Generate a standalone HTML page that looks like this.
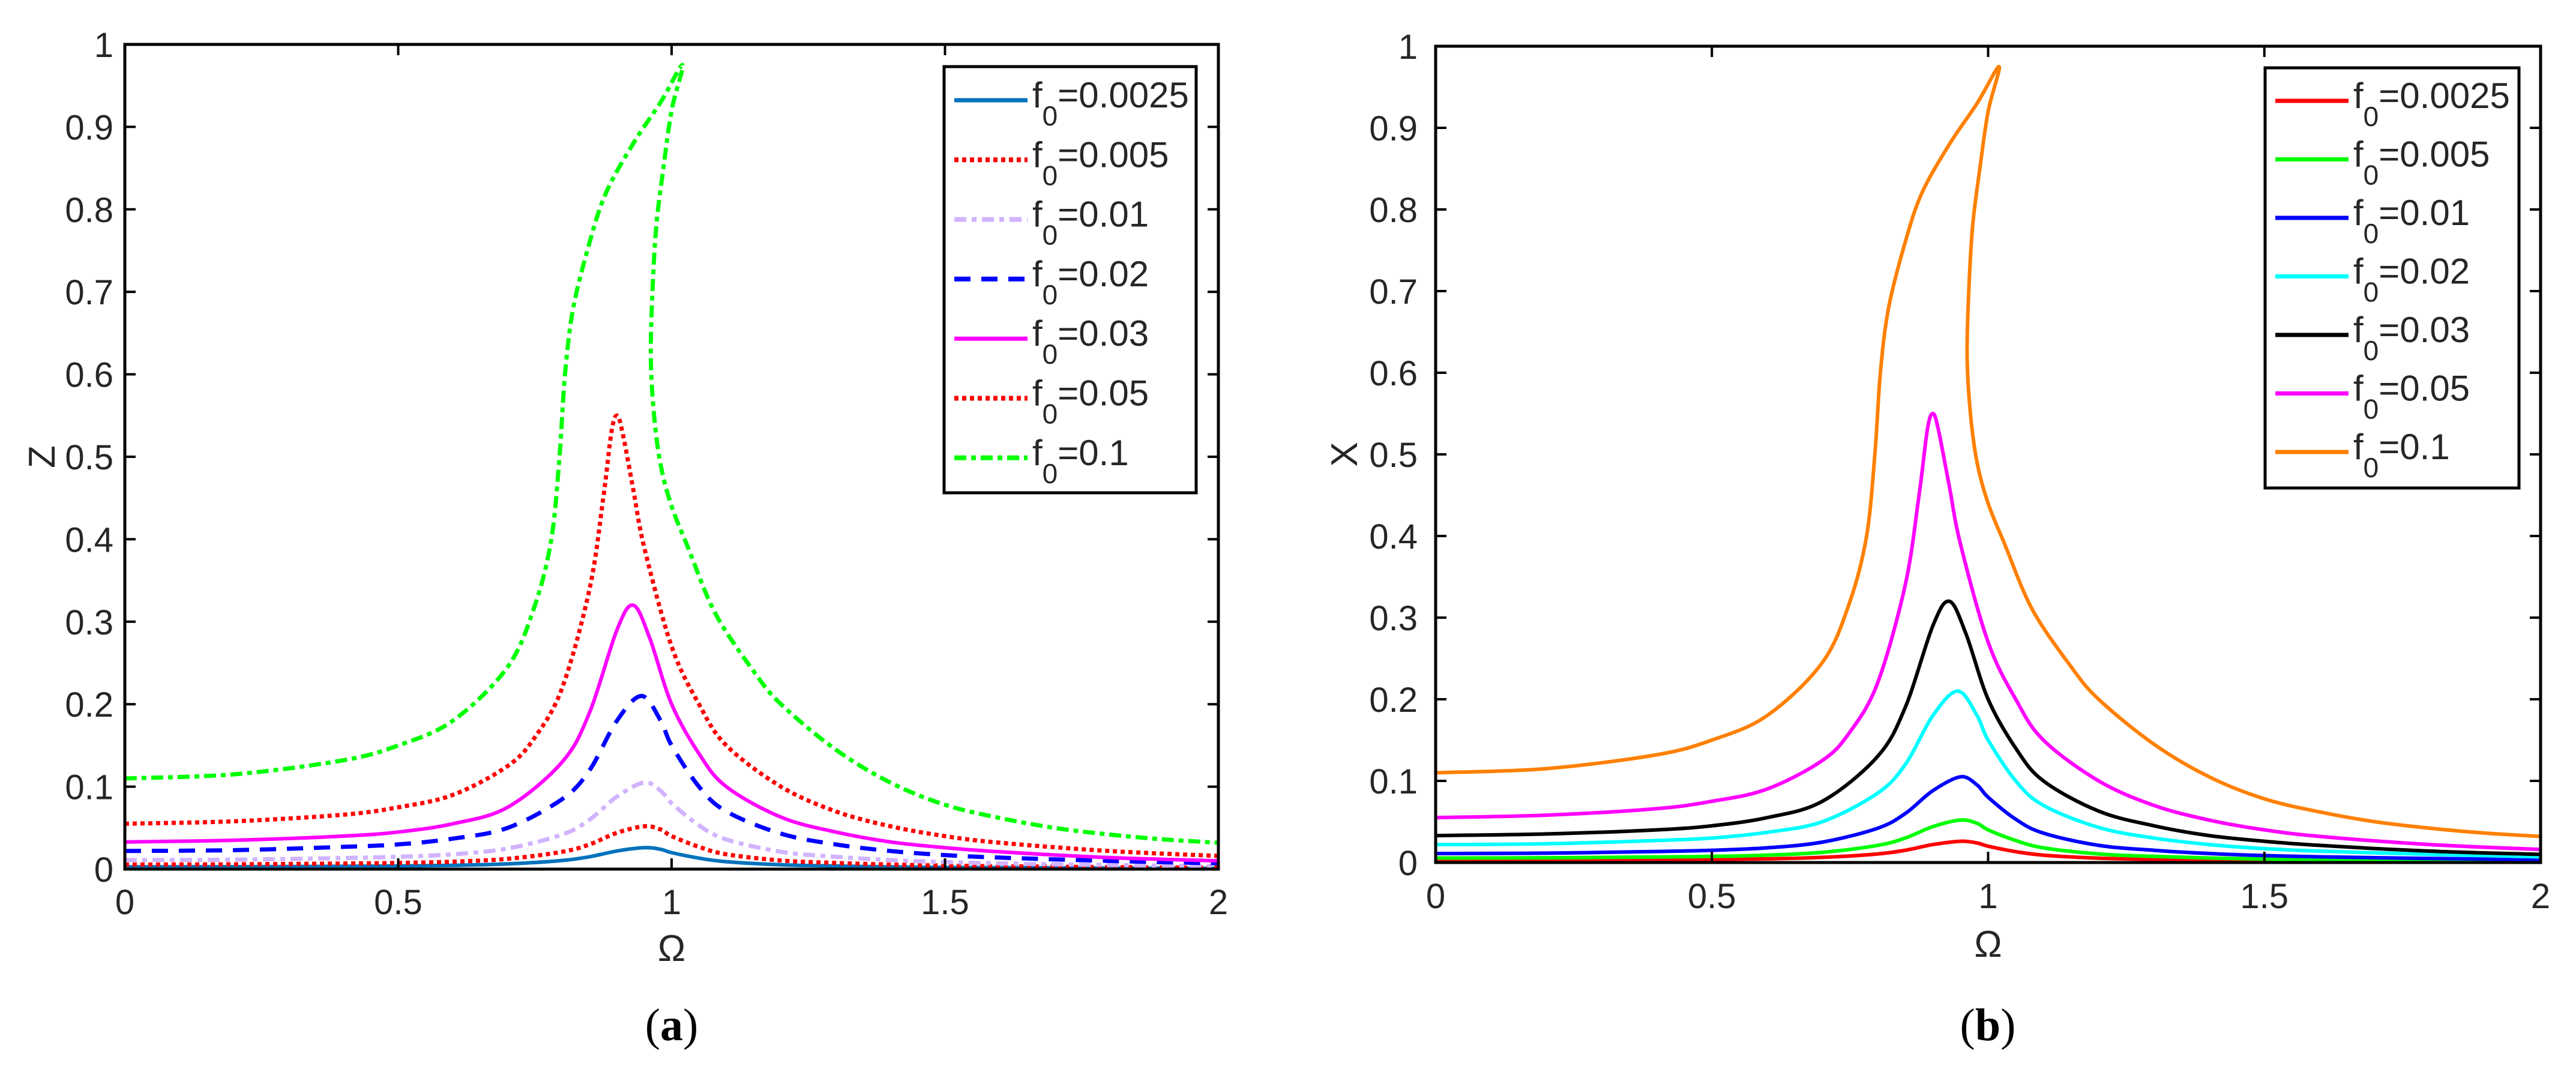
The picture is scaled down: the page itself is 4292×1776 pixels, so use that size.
<!DOCTYPE html>
<html>
<head>
<meta charset="utf-8">
<style>
html,body{margin:0;padding:0;background:#fff;}
svg{display:block;}
text{font-family:"Liberation Sans",Arial,sans-serif;fill:#262626;}
.serif{font-family:"Liberation Serif","Times New Roman",serif;fill:#000;}
</style>
</head>
<body>
<svg id="fig" width="4292" height="1776" viewBox="0 0 4292 1776" xmlns="http://www.w3.org/2000/svg"></svg>
<script>
// ---- data ----
const xTicks = [0, 0.5, 1, 1.5, 2];
const xTickLabels = ["0", "0.5", "1", "1.5", "2"];
const yTicks = [0, 0.1, 0.2, 0.3, 0.4, 0.5, 0.6, 0.7, 0.8, 0.9, 1];
const yTickLabels = ["0", "0.1", "0.2", "0.3", "0.4", "0.5", "0.6", "0.7", "0.8", "0.9", "1"];
const seriesNames = ["f0=0.0025", "f0=0.005", "f0=0.01", "f0=0.02", "f0=0.03", "f0=0.05", "f0=0.1"];
const legendValues = ["0.0025", "0.005", "0.01", "0.02", "0.03", "0.05", "0.1"];

const omegaSmall = [0, 0.2, 0.4, 0.5, 0.6, 0.7, 0.8, 0.85, 0.9, 0.95, 0.98, 1.0, 1.05, 1.1, 1.2, 1.3, 1.4, 1.5, 1.6, 1.8, 2.0];
const amp0025 = [0.0028, 0.0029, 0.0034, 0.0038, 0.0045, 0.0063, 0.0105, 0.015, 0.022, 0.026, 0.024, 0.02, 0.0133, 0.009, 0.0053, 0.0038, 0.0028, 0.0021, 0.0018, 0.0013, 0.0009];
const amp005 = [0.0055, 0.0058, 0.0068, 0.0075, 0.009, 0.0125, 0.021, 0.03, 0.044, 0.052, 0.048, 0.04, 0.027, 0.018, 0.0105, 0.0075, 0.0055, 0.0043, 0.0035, 0.0025, 0.0018];
const amp01 = [0.011, 0.0115, 0.0135, 0.015, 0.018, 0.025, 0.042, 0.06, 0.088, 0.105, 0.095, 0.08, 0.053, 0.036, 0.021, 0.015, 0.011, 0.0085, 0.007, 0.005, 0.0035];

const omega02 = [0, 0.2, 0.4, 0.5, 0.6, 0.7, 0.8, 0.85, 0.9, 0.945, 0.98, 1.0, 1.05, 1.1, 1.2, 1.3, 1.4, 1.5, 1.6, 1.8, 2.0];
const amp02 = [0.022, 0.023, 0.027, 0.03, 0.037, 0.05, 0.085, 0.12, 0.18, 0.21, 0.18, 0.15, 0.1, 0.07, 0.043, 0.03, 0.022, 0.017, 0.014, 0.01, 0.007];

const omega03 = [0, 0.2, 0.4, 0.5, 0.6, 0.7, 0.8, 0.85, 0.9, 0.93, 0.96, 1.0, 1.05, 1.1, 1.2, 1.3, 1.4, 1.5, 1.6, 1.8, 2.0];
const amp03 = [0.033, 0.035, 0.04, 0.045, 0.055, 0.075, 0.13, 0.19, 0.29, 0.32, 0.28, 0.2, 0.14, 0.1, 0.063, 0.045, 0.033, 0.026, 0.021, 0.014, 0.01];

const omega05 = [0, 0.2, 0.4, 0.5, 0.6, 0.7, 0.75, 0.8, 0.85, 0.875, 0.89, 0.9, 0.91, 0.93, 0.95, 1.0, 1.05, 1.1, 1.2, 1.3, 1.4, 1.5, 1.6, 1.8, 2.0];
const amp05 = [0.055, 0.058, 0.066, 0.075, 0.09, 0.125, 0.16, 0.22, 0.34, 0.45, 0.53, 0.55, 0.53, 0.46, 0.39, 0.27, 0.2, 0.15, 0.1, 0.07, 0.052, 0.04, 0.032, 0.022, 0.016];

const omega1 = [0, 0.2, 0.4, 0.5, 0.6, 0.7, 0.75, 0.78, 0.795, 0.805, 0.82, 0.85, 0.88, 0.93, 0.98, 1.02, 1.0, 0.985, 0.972, 0.965, 0.962, 0.968, 0.98, 1.0, 1.03, 1.08, 1.15, 1.2, 1.3, 1.4, 1.5, 1.6, 1.7, 1.8, 1.9, 2.0];
const amp1 = [0.11, 0.115, 0.132, 0.15, 0.18, 0.245, 0.32, 0.4, 0.5, 0.6, 0.68, 0.76, 0.82, 0.88, 0.93, 0.975, 0.92, 0.85, 0.78, 0.7, 0.62, 0.55, 0.49, 0.44, 0.39, 0.31, 0.24, 0.2, 0.145, 0.105, 0.078, 0.062, 0.05, 0.042, 0.036, 0.032];

const seriesOmega = [omegaSmall, omegaSmall, omegaSmall, omega02, omega03, omega05, omega1];
const seriesAmp = [amp0025, amp005, amp01, amp02, amp03, amp05, amp1];

// ---- styles ----
const styleA = [
  {c:"#0072BD", d:"", w:6},
  {c:"#FF0000", d:"7 6", w:7},
  {c:"#D1B3FF", d:"20 9 8 9", w:7},
  {c:"#0000FF", d:"27 18", w:7},
  {c:"#FF00FF", d:"", w:6},
  {c:"#FF0000", d:"7 6", w:7},
  {c:"#00FF00", d:"20 8 8 8", w:7}
];
const styleB = [
  {c:"#FF0000", d:"", w:6},
  {c:"#00FF00", d:"", w:6},
  {c:"#0000FF", d:"", w:6},
  {c:"#00FFFF", d:"", w:6},
  {c:"#000000", d:"", w:6},
  {c:"#FF00FF", d:"", w:6},
  {c:"#FF8000", d:"", w:6}
];

const NS = "http://www.w3.org/2000/svg";
const svg = document.getElementById("fig");
function mk(tag, attrs, parent) {
  const e = document.createElementNS(NS, tag);
  for (const k in attrs) e.setAttribute(k, attrs[k]);
  (parent || svg).appendChild(e);
  return e;
}
function smoothPath(pts) {
  let d = "M" + pts[0][0].toFixed(1) + "," + pts[0][1].toFixed(1);
  for (let i = 0; i < pts.length - 1; i++) {
    const p0 = pts[Math.max(0, i - 1)], p1 = pts[i], p2 = pts[i + 1], p3 = pts[Math.min(pts.length - 1, i + 2)];
    const c1x = p1[0] + (p2[0] - p0[0]) / 6, c1y = p1[1] + (p2[1] - p0[1]) / 6;
    const c2x = p2[0] - (p3[0] - p1[0]) / 6, c2y = p2[1] - (p3[1] - p1[1]) / 6;
    d += "C" + c1x.toFixed(1) + "," + c1y.toFixed(1) + " " + c2x.toFixed(1) + "," + c2y.toFixed(1) + " " + p2[0].toFixed(1) + "," + p2[1].toFixed(1);
  }
  return d;
}

function panel(cfg) {
  const g = mk("g", {});
  
  
  const sx = v => cfg.L + (v - 0) / 2 * (cfg.R - cfg.L);
  const sy = v => cfg.B - v * (cfg.B - cfg.T);
  const clipId = cfg.name + "-clip";
  const cp = mk("clipPath", {id: clipId}, g);
  mk("rect", {x: cfg.L, y: cfg.T - 10, width: cfg.R - cfg.L, height: cfg.B - cfg.T + 10}, cp);

  const sg = mk("g", {"clip-path": "url(#" + clipId + ")"}, g);
  for (let i = 0; i < seriesAmp.length; i++) {
    const pts = seriesOmega[i].map((o, j) => [sx(o), sy(seriesAmp[i][j])]);
    const st = cfg.styles[i];
    const p = mk("path", {d: smoothPath(pts), fill: "none", stroke: st.c, "stroke-width": st.w, "stroke-dasharray": st.d || "none", "stroke-linejoin": "round"}, sg);
    
    
  }

  const box = mk("rect", {x: cfg.L, y: cfg.T, width: cfg.R - cfg.L, height: cfg.B - cfg.T, fill: "none", stroke: "#000", "stroke-width": 5}, g);
  
  

  const tl = 18;
  xTicks.forEach((v, i) => {
    const x = sx(v);
    mk("line", {x1: x, y1: cfg.B, x2: x, y2: cfg.B - tl, stroke: "#000", "stroke-width": 4}, g);
    mk("line", {x1: x, y1: cfg.T, x2: x, y2: cfg.T + tl, stroke: "#000", "stroke-width": 4}, g);
    const t = mk("text", {x: x, y: cfg.xLabelY + 21, "font-size": 58, "text-anchor": "middle"}, g);
    t.textContent = xTickLabels[i];
    
    
  });
  yTicks.forEach((v, i) => {
    const y = sy(v);
    mk("line", {x1: cfg.L, y1: y, x2: cfg.L + tl, y2: y, stroke: "#000", "stroke-width": 4}, g);
    mk("line", {x1: cfg.R, y1: y, x2: cfg.R - tl, y2: y, stroke: "#000", "stroke-width": 4}, g);
    const t = mk("text", {x: cfg.L - cfg.yGap, y: y + 21, "font-size": 58, "text-anchor": "end"}, g);
    t.textContent = yTickLabels[i];
    
    
  });

  const xt = mk("text", {x: (cfg.L + cfg.R) / 2, y: cfg.xTitleY + 22, "font-size": 62, "text-anchor": "middle"}, g);
  xt.textContent = "Ω";
  
  
  const yt = mk("text", {x: 0, y: 0, "font-size": 62, "text-anchor": "middle", transform: "translate(" + (cfg.yTitleX + 22) + "," + ((cfg.T + cfg.B) / 2) + ") rotate(-90)"}, g);
  yt.textContent = cfg.yTitle;
  
  

  const lg = mk("g", {}, g);
  
  
  mk("rect", {x: cfg.lgL, y: cfg.lgT, width: cfg.lgW, height: cfg.lgH, fill: "#fff", stroke: "#000", "stroke-width": 5}, lg);
  for (let i = 0; i < seriesNames.length; i++) {
    const y = cfg.lgY0 + i * cfg.lgStep;
    const st = cfg.styles[i];
    const e = mk("g", {}, lg);
    
    
    mk("line", {x1: cfg.lgL + 17, y1: y, x2: cfg.lgL + 139, y2: y, stroke: st.c, "stroke-width": st.w + 1, "stroke-dasharray": st.d || "none"}, e);
    const t = mk("text", {x: cfg.lgL + 147, y: y + 12, "font-size": 60, fill: "#000"}, e);
    const a = mk("tspan", {}, t); a.textContent = "f";
    const b = mk("tspan", {dy: 30, "font-size": 46}, t); b.textContent = "0";
    const c = mk("tspan", {dy: -30}, t); c.textContent = "=" + legendValues[i];
  }

  const cap = mk("text", {x: cfg.capX, y: 1733, "font-size": 76, "text-anchor": "middle", class: "serif"}, g);
  const c1 = mk("tspan", {}, cap); c1.textContent = "(";
  const c2 = mk("tspan", {"font-weight": "bold"}, cap); c2.textContent = cfg.cap;
  const c3 = mk("tspan", {}, cap); c3.textContent = ")";
  
  
}

panel({name: "panel-a", L: 208, R: 2030, T: 74, B: 1448, yGap: 19, xLabelY: 1502, xTitleY: 1579, yTitleX: 69, yTitle: "Z",
  lgL: 1573, lgT: 111, lgW: 420, lgH: 710, lgY0: 167, lgStep: 99.3, styles: styleA, capX: 1119, cap: "a"});
panel({name: "panel-b", L: 2392, R: 4233, T: 77, B: 1437, yGap: 30, xLabelY: 1492, xTitleY: 1572, yTitleX: 2239, yTitle: "X",
  lgL: 3774, lgT: 113, lgW: 423, lgH: 700, lgY0: 168, lgStep: 97.5, styles: styleB, capX: 3312, cap: "b"});
</script>
</body>
</html>
